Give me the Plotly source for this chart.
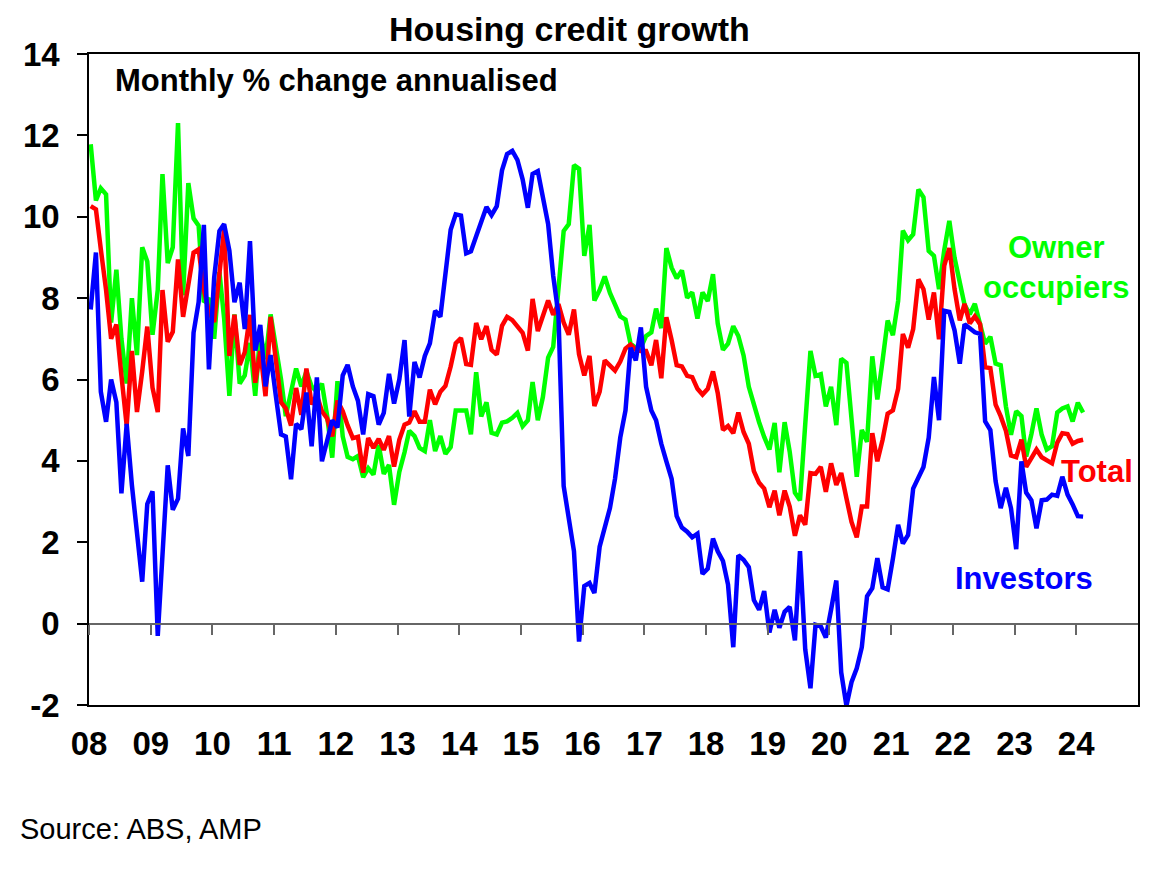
"""
Housing credit growth - monthly % change annualised (ABS, AMP)
"""
import pandas as pd
import plotly.graph_objects as go

# monthly points, Jan 2008 .. Feb 2024
months = pd.date_range("2008-01-01", periods=194, freq="MS") + pd.Timedelta(days=10)

owner_occupiers = [
    11.78, 10.4, 10.7, 10.55, 7.4, 8.7, 7.0, 5.9, 8.0, 6.6,
    9.25, 8.9, 7.1, 8.2, 11.05, 8.86, 9.25, 12.3, 8.07, 10.83,
    9.96, 9.78, 7.9, 8.0, 7.0, 8.64, 7.5, 5.6, 7.6, 5.9,
    6.1, 6.9, 5.6, 7.15, 6.5, 7.6, 6.8, 6.0, 5.1, 5.66,
    6.27, 5.83, 6.2, 5.83, 5.7, 5.9, 5.1, 4.08, 5.96, 4.6,
    4.1, 4.04, 4.12, 3.6, 3.82, 3.66, 4.39, 3.68, 3.9, 2.92,
    3.73, 4.21, 4.74, 4.61, 4.32, 4.24, 5.0, 4.24, 4.61, 4.17,
    4.34, 5.24, 5.24, 5.24, 4.65, 6.18, 5.09, 5.44, 4.69, 4.65,
    4.94, 4.97, 5.06, 5.18, 4.85, 5.0, 5.94, 5.0, 5.57, 6.54,
    6.8, 8.2, 9.65, 9.82, 11.27, 11.18, 9.04, 9.8, 7.94, 8.2,
    8.53, 8.13, 7.84, 7.55, 7.47, 6.88, 6.78, 6.78, 7.07, 7.16,
    7.74, 7.26, 9.23, 8.75, 8.49, 8.68, 8.01, 8.14, 7.5, 8.14,
    7.93, 8.59, 7.38, 6.73, 6.88, 7.31, 7.07, 6.59, 5.82, 5.34,
    4.95, 4.59, 4.28, 4.93, 3.72, 4.95, 4.23, 3.22, 3.03, 4.9,
    6.7, 6.09, 6.13, 5.34, 5.82, 4.88, 6.51, 6.41, 4.95, 3.61,
    4.76, 4.47, 6.57, 5.51, 6.47, 7.45, 7.09, 7.93, 9.66, 9.42,
    9.57, 10.67, 10.48, 9.16, 9.04, 8.22, 9.18, 9.9, 8.99, 8.34,
    7.84, 7.6, 7.86, 7.36, 6.88, 7.05, 6.39, 6.35, 5.34, 4.64,
    5.22, 5.1, 4.11, 4.66, 5.29, 4.64, 4.28, 4.36, 5.19, 5.29,
    5.34, 4.97, 5.43, 5.19,
]

total = [
    10.26, 10.18, 9.2, 8.2, 7.0, 7.35, 6.1, 4.87, 6.7, 5.2,
    6.2, 7.3, 5.8, 5.2, 8.2, 6.93, 7.17, 8.95, 7.54, 8.3,
    9.12, 9.2, 8.2, 7.67, 7.41, 8.6, 9.7, 6.58, 7.59, 6.36,
    6.67, 7.59, 5.92, 6.7, 5.59, 7.54, 6.5, 5.44, 5.29, 4.87,
    5.79, 5.13, 6.27, 5.39, 5.61, 5.22, 5.04, 4.6, 5.48, 5.22,
    4.87, 4.56, 4.59, 3.71, 4.56, 4.32, 4.54, 4.27, 4.61, 3.86,
    4.52, 4.89, 4.94, 5.22, 4.96, 4.96, 5.75, 5.39, 5.7, 5.84,
    6.32, 6.89, 7.02, 6.38, 6.36, 7.39, 6.99, 7.31, 6.73, 6.61,
    7.32, 7.54, 7.46, 7.32, 7.15, 6.71, 7.98, 7.19, 7.54, 7.94,
    7.59, 7.85, 7.4, 7.1, 7.72, 6.62, 6.1, 6.58, 5.35, 5.7,
    6.47, 6.35, 6.22, 6.44, 6.76, 6.86, 6.73, 6.7, 6.7, 6.35,
    6.97, 6.03, 7.53, 6.97, 6.35, 6.32, 6.09, 6.06, 5.77, 5.63,
    5.77, 6.2, 5.67, 4.76, 4.86, 4.68, 5.19, 4.71, 4.42, 3.75,
    3.46, 3.32, 2.86, 3.27, 2.66, 3.27, 2.88, 2.16, 2.66, 2.43,
    3.7, 3.68, 3.85, 3.24, 3.94, 3.41, 3.7, 3.08, 2.5, 2.12,
    2.88, 2.88, 4.68, 3.99, 4.52, 5.16, 5.24, 5.77, 7.12, 6.78,
    7.24, 8.46, 8.22, 7.47, 8.14, 6.99, 8.8, 9.23, 8.22, 7.45,
    7.86, 7.38, 7.55, 7.36, 6.3, 6.28, 5.38, 5.1, 4.74, 4.13,
    4.09, 4.52, 3.85, 4.07, 4.28, 4.09, 4.01, 3.94, 4.45, 4.68,
    4.66, 4.42, 4.49, 4.52,
]

investors = [
    7.72, 9.12, 5.7, 4.96, 6.0, 5.44, 3.2, 4.91, 3.4, 2.2,
    1.03, 2.94, 3.25, -0.3, 1.8, 3.89, 2.8, 3.07, 4.8, 4.12,
    7.15, 7.9, 9.8, 6.25, 8.5, 9.65, 9.82, 9.17, 7.9, 8.38,
    7.24, 9.4, 6.71, 7.34, 5.83, 6.6, 5.6, 4.65, 4.6, 3.55,
    4.91, 4.78, 5.68, 4.36, 6.05, 3.99, 4.5, 5.0, 4.82, 6.1,
    6.36, 5.83, 5.48, 4.65, 5.64, 5.59, 4.89, 5.18, 6.14, 5.41,
    6.0, 6.97, 5.09, 6.43, 6.05, 6.58, 6.89, 7.69, 7.54, 8.55,
    9.68, 10.06, 10.03, 9.1, 9.15, 9.52, 9.91, 10.24, 10.04, 10.26,
    11.14, 11.54, 11.62, 11.4, 10.92, 10.22, 11.05, 11.12, 10.48, 9.82,
    8.55, 7.6, 3.38, 2.5, 1.78, -0.44, 0.92, 1.0, 0.75, 1.89,
    2.31, 2.84, 3.56, 4.57, 5.24, 6.78, 6.47, 7.28, 5.82, 5.24,
    5.0, 4.42, 3.99, 3.56, 2.64, 2.36, 2.26, 2.12, 2.21, 1.22,
    1.35, 2.09, 1.78, 1.54, 0.96, -0.58, 1.68, 1.57, 1.39, 0.58,
    0.34, 0.8, -0.22, 0.34, -0.1, 0.29, 0.41, -0.41, 1.78, -0.63,
    -1.59, -0.03, -0.07, -0.34, 0.34, 1.06, -1.2, -2.02, -1.44, -1.1,
    -0.58, 0.67, 0.87, 1.61, 0.89, 0.84, 1.6, 2.43, 1.97, 2.18,
    3.32, 3.56, 3.85, 4.57, 6.06, 5.0, 7.69, 7.66, 7.21, 6.39,
    7.36, 7.26, 7.16, 7.12, 4.97, 4.76, 3.5, 2.84, 3.34, 2.84,
    1.83, 3.99, 3.22, 3.03, 2.34, 3.03, 3.05, 3.17, 3.14, 3.61,
    3.17, 2.93, 2.64, 2.63,
]

years = list(range(2008, 2025))
year_labels = [f"{y % 100:02d}" for y in years]
y_ticks = [-2, 0, 2, 4, 6, 8, 10, 12, 14]
y_labels = [str(v) for v in y_ticks]

green = "#00FF00"
red = "#FF0000"
blue = "#0000FF"
font = "Liberation Sans, Arial, sans-serif"
x_range = ["2008-01-01", "2025-01-01"]
year_dates = [f"{y}-01-01" for y in years]

fig = go.Figure()
fig.add_trace(go.Scatter(x=months, y=owner_occupiers, mode="lines",
                         line=dict(color=green, width=4.5), name="Owner occupiers"))
fig.add_trace(go.Scatter(x=months, y=total, mode="lines",
                         line=dict(color=red, width=4.5), name="Total"))
fig.add_trace(go.Scatter(x=months, y=investors, mode="lines",
                         line=dict(color=blue, width=4.5), name="Investors"))

tick_font = dict(size=33, family=font, color="black", weight="bold")

fig.update_layout(
    width=1166, height=861,
    margin=dict(l=81, r=36, t=46, b=164),
    paper_bgcolor="white", plot_bgcolor="white",
    showlegend=False,
    font=dict(family=font, color="black"),
    title=dict(text="<b>Housing credit growth</b>", x=0.458, xref="paper", xanchor="center",
               y=0.975, yref="container", yanchor="middle",
               font=dict(size=34, family=font, color="black")),
    xaxis=dict(range=x_range, type="date", tickvals=year_dates, ticktext=year_labels,
               ticks="", showgrid=False, zeroline=False,
               showline=True, linecolor="black", linewidth=1.5, mirror=True,
               tickfont=tick_font, ticklabelstandoff=9),
    # axis sitting on the zero line, carrying the year ticks
    xaxis2=dict(range=x_range, type="date", overlaying="x", matches="x", anchor="free",
                position=0.125, side="bottom", tickvals=year_dates,
                showline=True, linecolor="#666666", linewidth=2,
                ticks="outside", ticklen=10, tickwidth=1.5, tickcolor="#666666",
                showticklabels=False, showgrid=False, zeroline=False),
    yaxis=dict(range=[-2, 14], tickvals=y_ticks, ticktext=y_labels,
               showgrid=False, zeroline=False,
               showline=True, linecolor="black", linewidth=1.5, mirror=True,
               ticks="outside", ticklen=10, tickcolor="black", tickwidth=1.5,
               tickfont=tick_font, ticklabelstandoff=11),
)

# invisible carrier so the zero-line axis is drawn
fig.add_trace(go.Scatter(x=[months[0]], y=[0], xaxis="x2", mode="markers",
                         marker=dict(opacity=0), hoverinfo="skip", showlegend=False))

fig.add_annotation(text="<b>Monthly % change annualised</b>", xref="paper", yref="paper",
                   x=0.0226, y=0.959, xanchor="left", yanchor="middle", showarrow=False,
                   font=dict(size=31, family=font, color="black"))
fig.add_annotation(text="<b>Owner<br>occupiers</b>", x="2023-09-01", y=8.75,
                   xanchor="center", yanchor="middle", showarrow=False,
                   font=dict(size=31, family=font, color=green))
fig.add_annotation(text="<b>Total</b>", x="2024-05-01", y=3.75,
                   xanchor="center", yanchor="middle", showarrow=False,
                   font=dict(size=31, family=font, color=red))
fig.add_annotation(text="<b>Investors</b>", x="2023-03-01", y=1.1,
                   xanchor="center", yanchor="middle", showarrow=False,
                   font=dict(size=31, family=font, color=blue))
fig.add_annotation(text="Source: ABS, AMP", xref="paper", yref="paper",
                   x=-0.068, y=-0.191, xanchor="left", yanchor="middle", showarrow=False,
                   font=dict(size=29, family=font, color="black"))

fig.write_html("out.html")
